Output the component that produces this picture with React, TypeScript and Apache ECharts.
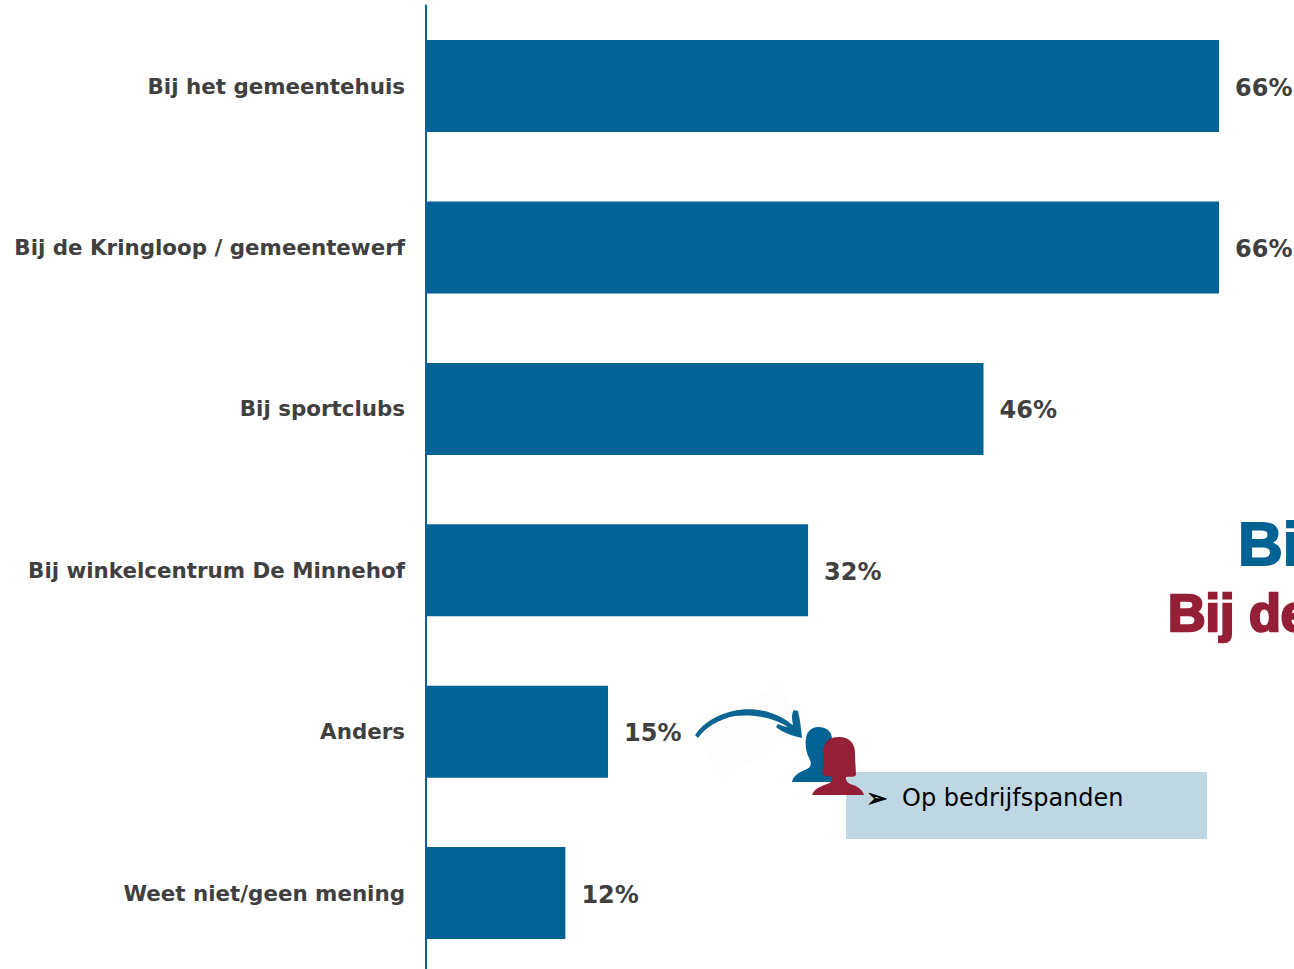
import React, { useEffect, useRef } from "react";
import * as echarts from "echarts";

const categories = [
  "Bij het gemeentehuis",
  "Bij de Kringloop / gemeentewerf",
  "Bij sportclubs",
  "Bij winkelcentrum De Minnehof",
  "Anders",
  "Weet niet/geen mening",
];
const values = [66, 66, 46.4, 31.8, 15.15, 11.6];
const valueLabels = ["66%", "66%", "46%", "32%", "15%", "12%"];
const BLUE = "#006394";
const RED = "#951f36";

const MAN =
  "M818 727 C826 727 832 731 832 739 L834 760 L834 770 L838 782 L792 782 C793 776 799 772 807 769 C811 767 812 763 809 758 C806 752 805 745 806 738 C807 731 812 727 818 727 Z";
const WOMAN =
  "M839 737 C850 737 855 744 855 753 C855 762 856 770 856 775 C853 778 849 776 846 777 C845 781 849 784 853 785 C859 787 863 791 864 795 L812 795 C814 789 819 787 827 784 C831 783 833 781 832 776 C829 777 825 777 822 773 C824 768 823 760 823 752 C824 743 828 737 839 737 Z";
const ARROW =
  "M695 735 C703 723 716 715 733 711 C752 707 774 710 791 724 L793 725 C792 720 791 714 794 710 L798 711 C800 719 801 728 802 738 C793 736 783 733 776 727 L778 724 C782 726 786 727 788 727 C772 717 752 714 735 716 C719 719 706 727 698 738 Z";

echarts.graphic.registerShape("manShape", echarts.graphic.extendPath(MAN, {}));
echarts.graphic.registerShape("womanShape", echarts.graphic.extendPath(WOMAN, {}));
echarts.graphic.registerShape("arrowShape", echarts.graphic.extendPath(ARROW, {}));

export default function App() {
  const ref = useRef<HTMLDivElement>(null);
  useEffect(() => {
    document.body.style.margin = "0";
    const chart = echarts.init(ref.current!, null, { renderer: "svg" });
    chart.setOption({
      animation: false,
      backgroundColor: "#ffffff",
      grid: { left: 426, top: 5.4, width: 793, height: 968.4 },
      xAxis: { type: "value", min: 0, max: 66, show: false },
      yAxis: {
        type: "category",
        inverse: true,
        data: categories,
        axisLine: { show: true, lineStyle: { color: BLUE, width: 2 } },
        axisTick: { show: false },
        axisLabel: {
          margin: 21,
          color: "#404040",
          fontFamily: "DejaVu Sans",
          fontWeight: "bold",
          fontSize: 21.4,
        },
      },
      series: [
        {
          type: "bar",
          data: values,
          barWidth: 92,
          itemStyle: { color: BLUE },
          label: {
            show: true,
            position: "right",
            distance: 16,
            offset: [0, 1.5],
            color: "#404040",
            fontFamily: "DejaVu Sans",
            fontWeight: "bold",
            fontSize: 24,
            formatter: (p: any) => valueLabels[p.dataIndex],
          },
        },
      ],
      graphic: [
        { type: "polygon", shape: { points: [[778, 682], [695, 735], [723, 780], [807, 727]] }, style: { fill: "#fdfdfd" } },
        { type: "rect", shape: { x: 846, y: 772, width: 361, height: 67 }, style: { fill: "#bfd7e3" } },
        { type: "arrowShape", x: 0, y: 0, style: { fill: "#0a6593" } },
        { type: "manShape", x: 0, y: 0, style: { fill: BLUE } },
        { type: "womanShape", x: 0, y: 0, style: { fill: RED } },
        { type: "text", x: 866, y: 798, style: { text: "➢", fill: "#000000", stroke: "#000000", lineWidth: 0.6, fontFamily: "DejaVu Sans", fontSize: 26, verticalAlign: "middle" } },
        { type: "text", x: 902, y: 798, style: { text: "Op bedrijfspanden", fill: "#000000", fontFamily: "DejaVu Sans", fontSize: 24, verticalAlign: "middle" } },
        { type: "text", x: 1238, y: 543, style: { text: "Bij", fill: BLUE, fontFamily: "Liberation Sans", fontWeight: "bold", fontSize: 62, verticalAlign: "middle", stroke: BLUE, lineWidth: 2 } },
        { type: "text", x: 1168, y: 613, style: { text: "Bij de", fill: RED, fontFamily: "Liberation Sans", fontWeight: "bold", fontSize: 52, verticalAlign: "middle", stroke: RED, lineWidth: 2.5 } },
      ],
    });
    return () => chart.dispose();
  }, []);
  return (
    <div style={{ width: 1294, height: 969, overflow: "hidden" }}>
      <div ref={ref} style={{ width: 1294, height: 985 }} />
    </div>
  );
}
